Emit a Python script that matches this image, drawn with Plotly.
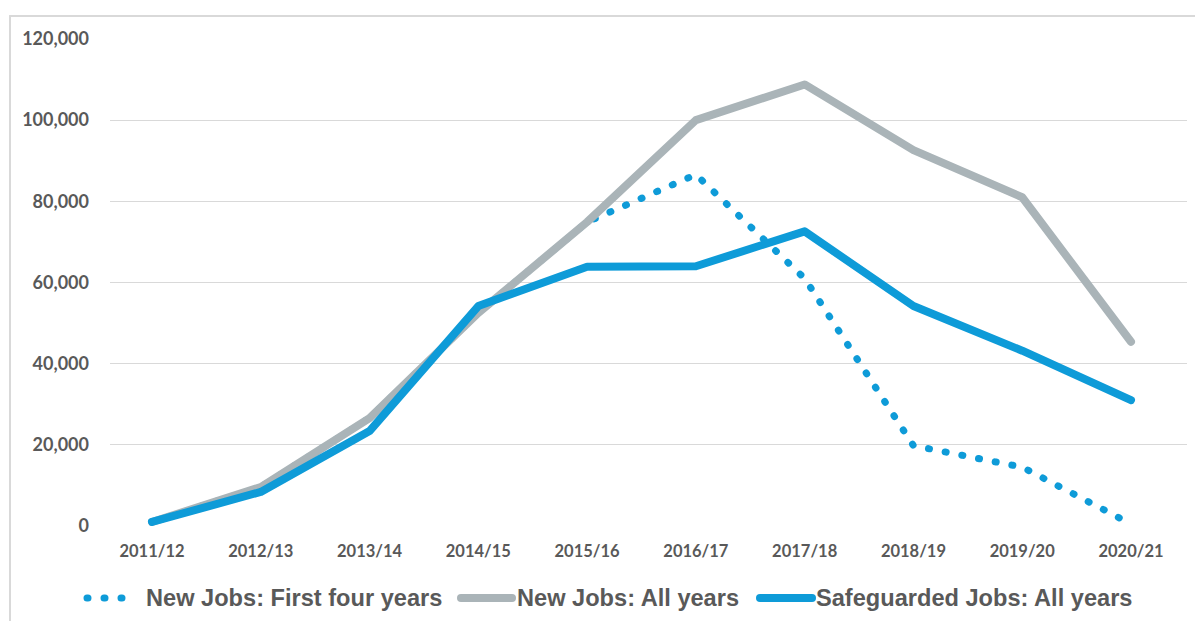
import plotly.graph_objects as go

# Financial years on the category axis
years = ["2011/12", "2012/13", "2013/14", "2014/15", "2015/16",
         "2016/17", "2017/18", "2018/19", "2019/20", "2020/21"]

# Job counts per year
new_first_four = [1000, 9600, 26600, 52500, 74900, 86600, 61000, 19800, 14500, 500]
new_all_years = [1000, 9600, 26600, 52500, 74900, 100000, 108800, 92600, 81000, 45400]
safeguarded_all = [1000, 8400, 23400, 54200, 63900, 64000, 72600, 54200, 43200, 31000]

y_ticks = [0, 20000, 40000, 60000, 80000, 100000, 120000]

series_names = ["New Jobs: First four years", "New Jobs: All years",
                "Safeguarded Jobs: All years"]

BLUE = "#0E9BD8"
GREY = "#AAB4B8"
TEXT = "#595959"
GRID = "#D9D9D9"

W, H = 1195, 621
L, R, T, B = 110, 8, 39, 95
pw, ph = W - L - R, H - T - B


def px(x):
    return (x - L) / pw


def py(y):
    return (H - B - y) / ph


fig = go.Figure()
fig.add_trace(go.Scatter(x=years, y=new_first_four, mode="lines",
                         name=series_names[0],
                         line=dict(color=BLUE, width=7, dash="1px,16px")))
fig.add_trace(go.Scatter(x=years, y=new_all_years, mode="lines",
                         name=series_names[1],
                         line=dict(color=GREY, width=8)))
fig.add_trace(go.Scatter(x=years, y=safeguarded_all, mode="lines",
                         name=series_names[2],
                         line=dict(color=BLUE, width=8)))

shapes = []
# outer frame (left and top edges)
shapes.append(dict(type="line", xref="paper", yref="paper",
                   x0=px(10), x1=px(10), y0=py(16), y1=py(H + 5),
                   line=dict(color=GRID, width=2)))
shapes.append(dict(type="line", xref="paper", yref="paper",
                   x0=px(10), x1=px(W + 5), y0=py(16), y1=py(16),
                   line=dict(color=GRID, width=2)))

# legend keys
leg_y = py(598)
shapes.append(dict(type="line", xref="paper", yref="paper",
                   x0=px(87), x1=px(124), y0=leg_y, y1=leg_y,
                   line=dict(color=BLUE, width=7, dash="1px,16px")))
shapes.append(dict(type="line", xref="paper", yref="paper",
                   x0=px(461), x1=px(512), y0=leg_y, y1=leg_y,
                   line=dict(color=GREY, width=8)))
shapes.append(dict(type="line", xref="paper", yref="paper",
                   x0=px(760), x1=px(812), y0=leg_y, y1=leg_y,
                   line=dict(color=BLUE, width=8)))

annotations = []
for xpos, label in zip([144, 515, 814], series_names):
    annotations.append(dict(xref="paper", yref="paper", x=px(xpos), y=leg_y,
                            xanchor="left", yanchor="middle", showarrow=False,
                            text=label,
                            font=dict(family="Liberation Sans", size=23.6,
                                      color=TEXT, weight="bold")))

fig.update_layout(
    width=W, height=H,
    margin=dict(l=L, r=R, t=T, b=B),
    paper_bgcolor="white", plot_bgcolor="white",
    showlegend=False,
    shapes=shapes,
    annotations=annotations,
    xaxis=dict(type="category", categoryorder="array", categoryarray=years,
               range=[-0.386, 9.515], showgrid=False, zeroline=False,
               showline=False, ticks="", ticklabelstandoff=13,
               tickfont=dict(family="Lato", size=16.5, color=TEXT, weight="bold")),
    yaxis=dict(range=[0, 120000], tickvals=y_ticks, tickformat=",",
               showgrid=True, gridcolor=GRID, gridwidth=1, zeroline=False,
               showline=False, ticks="", ticklabelstandoff=20,
               tickfont=dict(family="Lato", size=18, color=TEXT, weight="bold")),
)

round_caps = """
var gd = document.getElementById('{plot_id}');
gd.querySelectorAll('.scatterlayer path.js-line, .shapelayer path').forEach(function(p){
  p.style.strokeLinecap = 'round';
  p.style.strokeLinejoin = 'round';
});
"""

fig.write_html("out.html", post_script=round_caps)
